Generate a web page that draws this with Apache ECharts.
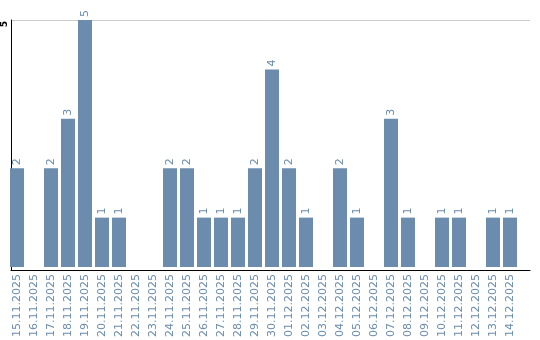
<!DOCTYPE html>
<html><head><meta charset="utf-8">
<script src="https://cdn.jsdelivr.net/npm/echarts@6/dist/echarts.min.js"></script>
<style>html,body{margin:0;padding:0;background:#fff}#c{width:540px;height:340px}</style>
</head><body><div id="c"></div>
<script>
const categories = ["15.11.2025","16.11.2025","17.11.2025","18.11.2025","19.11.2025","20.11.2025","21.11.2025","22.11.2025","23.11.2025","24.11.2025","25.11.2025","26.11.2025","27.11.2025","28.11.2025","29.11.2025","30.11.2025","01.12.2025","02.12.2025","03.12.2025","04.12.2025","05.12.2025","06.12.2025","07.12.2025","08.12.2025","09.12.2025","10.12.2025","11.12.2025","12.12.2025","13.12.2025","14.12.2025"];
const values = [2,0,2,3,5,1,1,0,0,2,2,1,1,1,2,4,2,1,0,2,1,0,3,1,0,1,1,0,1,1];
const yTicks = [5];
const barColor = '#6b8cad';
const chart = echarts.init(document.getElementById('c'));
chart.setOption({
  animation: false,
  grid: [
    {left: 10, right: 10, top: 20, bottom: 70, containLabel: false},
    {left: 8.5, right: 21.5, top: 20, bottom: 70, containLabel: false}
  ],
  xAxis: [
    {gridIndex: 0, type: 'value', min: 0, max: 1, axisLine: {show: true, onZero: false, lineStyle: {color: '#000', width: 1}},
      axisTick: {show: false}, axisLabel: {show: false}, splitLine: {show: false}},
    {gridIndex: 1, type: 'category', data: categories,
      axisLine: {show: false}, axisTick: {show: false},
      axisLabel: {rotate: 90, interval: 0, color: barColor, fontFamily: 'DejaVu Sans', fontSize: 11, margin: 7}}
  ],
  yAxis: [
    {gridIndex: 0, type: 'value', min: 0, max: yTicks[0], interval: 5,
      axisLine: {show: true, lineStyle: {color: '#000', width: 1}},
      axisTick: {show: false},
      splitLine: {lineStyle: {color: '#cccccc'}},
      axisLabel: {rotate: 90, color: '#000', fontFamily: 'DejaVu Sans', fontSize: 9, fontWeight: 'bold', margin: 2,
        padding: [0, 8, 0, 0],
        formatter: v => yTicks.includes(v) ? String(v) : ''}},
    {gridIndex: 1, type: 'value', min: 0, max: yTicks[0], interval: 5, show: false}
  ],
  series: [{
    type: 'bar', xAxisIndex: 1, yAxisIndex: 1,
    data: values.map(v => v === 0 ? null : v), barWidth: 14,
    itemStyle: {color: barColor},
    label: {show: true, position: 'top', rotate: 90, align: 'left', verticalAlign: 'middle', distance: 3,
      color: barColor, fontFamily: 'DejaVu Sans', fontSize: 11}
  }]
});
</script></body></html>
